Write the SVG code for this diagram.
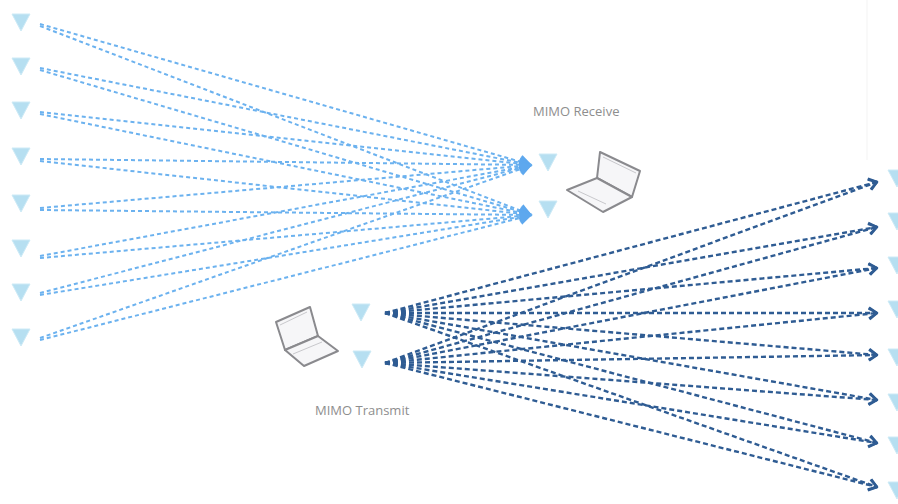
<svg xmlns="http://www.w3.org/2000/svg" width="898" height="504" viewBox="0 0 898 504">
  <style>
    .ant { fill: #b6dff1; stroke: #cdeaf6; stroke-width: 1; }
    .laptop { fill: #f6f6f8; stroke: #8a8a8e; stroke-width: 2; stroke-linejoin: round; }
    .laptop-inner { fill: none; stroke: #c8c8cc; stroke-width: 1; }
    .rx { stroke: #6cb2ef; stroke-width: 2; stroke-dasharray: 4 3; fill: none; marker-end: url(#arrowFilled); }
    .tx { stroke: #2f5c93; stroke-width: 2.4; stroke-dasharray: 5 3; fill: none; marker-end: url(#arrowOpen); }
    .label { font-family: "Open Sans", "Liberation Sans", sans-serif; font-size: 13px; fill: #8e8e8e; }
  </style>
  <defs>
    <marker id="arrowFilled" markerUnits="userSpaceOnUse" markerWidth="16" markerHeight="16" refX="14" refY="8" orient="auto">
      <path d="M2,1 L14,8 L2,15 Z" fill="#5ea8ee"/>
    </marker>
    <marker id="arrowOpen" markerUnits="userSpaceOnUse" markerWidth="14" markerHeight="14" refX="12" refY="7" orient="auto">
      <path d="M4,1.5 L12,7 L4,12.5" fill="none" stroke="#2f5c93" stroke-width="2.4" stroke-linejoin="round"/>
    </marker>
    <path id="antenna" d="M-9,-8 L9,-8 L0,9 Z"/>
  </defs>

  <rect width="898" height="504" fill="#ffffff"/>
  <line x1="867" y1="0" x2="867" y2="160" stroke="#f3f3f3" stroke-width="1"/>

  <!-- connectors -->
  <g id="connectors">
    <g id="receive-links">
      <line class="rx" x1="40" y1="24" x2="532" y2="165"/>
      <line class="rx" x1="40" y1="26" x2="532" y2="215"/>
      <line class="rx" x1="40" y1="68" x2="532" y2="165"/>
      <line class="rx" x1="40" y1="70" x2="532" y2="215"/>
      <line class="rx" x1="40" y1="112" x2="532" y2="165"/>
      <line class="rx" x1="40" y1="114" x2="532" y2="215"/>
      <line class="rx" x1="40" y1="159" x2="532" y2="165"/>
      <line class="rx" x1="40" y1="161" x2="532" y2="215"/>
      <line class="rx" x1="40" y1="208" x2="532" y2="165"/>
      <line class="rx" x1="40" y1="210" x2="532" y2="215"/>
      <line class="rx" x1="40" y1="256" x2="532" y2="165"/>
      <line class="rx" x1="40" y1="258" x2="532" y2="215"/>
      <line class="rx" x1="40" y1="293" x2="532" y2="165"/>
      <line class="rx" x1="40" y1="295" x2="532" y2="215"/>
      <line class="rx" x1="40" y1="338" x2="532" y2="165"/>
      <line class="rx" x1="40" y1="340" x2="532" y2="215"/>
    </g>
    <g id="transmit-links">
      <line class="tx" x1="385" y1="313" x2="877" y2="182"/>
      <line class="tx" x1="385" y1="313" x2="877" y2="227"/>
      <line class="tx" x1="385" y1="313" x2="877" y2="268"/>
      <line class="tx" x1="385" y1="313" x2="877" y2="313"/>
      <line class="tx" x1="385" y1="313" x2="877" y2="355"/>
      <line class="tx" x1="385" y1="313" x2="877" y2="400"/>
      <line class="tx" x1="385" y1="313" x2="877" y2="443"/>
      <line class="tx" x1="385" y1="313" x2="877" y2="487"/>
      <line class="tx" x1="385" y1="363" x2="877" y2="182"/>
      <line class="tx" x1="385" y1="363" x2="877" y2="227"/>
      <line class="tx" x1="385" y1="363" x2="877" y2="268"/>
      <line class="tx" x1="385" y1="363" x2="877" y2="313"/>
      <line class="tx" x1="385" y1="363" x2="877" y2="355"/>
      <line class="tx" x1="385" y1="363" x2="877" y2="400"/>
      <line class="tx" x1="385" y1="363" x2="877" y2="443"/>
      <line class="tx" x1="385" y1="363" x2="877" y2="487"/>
    </g>
  </g>

  <!-- remote antennas, left -->
  <g id="left-antenna-1"><use href="#antenna" class="ant" x="21" y="22"/></g>
  <g id="left-antenna-2"><use href="#antenna" class="ant" x="21" y="66"/></g>
  <g id="left-antenna-3"><use href="#antenna" class="ant" x="21" y="110"/></g>
  <g id="left-antenna-4"><use href="#antenna" class="ant" x="21" y="156"/></g>
  <g id="left-antenna-5"><use href="#antenna" class="ant" x="21" y="203"/></g>
  <g id="left-antenna-6"><use href="#antenna" class="ant" x="21" y="248"/></g>
  <g id="left-antenna-7"><use href="#antenna" class="ant" x="21" y="292"/></g>
  <g id="left-antenna-8"><use href="#antenna" class="ant" x="21" y="337"/></g>

  <!-- remote antennas, right -->
  <g id="right-antenna-1"><use href="#antenna" class="ant" x="897" y="178"/></g>
  <g id="right-antenna-2"><use href="#antenna" class="ant" x="897" y="221"/></g>
  <g id="right-antenna-3"><use href="#antenna" class="ant" x="897" y="265"/></g>
  <g id="right-antenna-4"><use href="#antenna" class="ant" x="897" y="309"/></g>
  <g id="right-antenna-5"><use href="#antenna" class="ant" x="897" y="357"/></g>
  <g id="right-antenna-6"><use href="#antenna" class="ant" x="897" y="402"/></g>
  <g id="right-antenna-7"><use href="#antenna" class="ant" x="897" y="445"/></g>
  <g id="right-antenna-8"><use href="#antenna" class="ant" x="897" y="490"/></g>

  <!-- MIMO receiver -->
  <g id="mimo-receive">
    <use href="#antenna" class="ant" x="548" y="162"/>
    <use href="#antenna" class="ant" x="548" y="209"/>
    <path class="laptop" d="M597,178 L600,152 L640,171 L632,197 Z"/>
    <path class="laptop" d="M567,190 L597,178 L632,197 L603,212 Z"/>
    <path class="laptop-inner" d="M603,157 L636,173 M578,191 L606,204"/>
    <text class="label" x="533" y="116">MIMO Receive</text>
  </g>

  <!-- MIMO transmitter -->
  <g id="mimo-transmit">
    <use href="#antenna" class="ant" x="361" y="312"/>
    <use href="#antenna" class="ant" x="362" y="359"/>
    <path class="laptop" d="M276,322 L310,307 L318,336 L285,350 Z"/>
    <path class="laptop" d="M285,350 L318,336 L338,351 L304,366 Z"/>
    <path class="laptop-inner" d="M280,325 L307,312 M293,354 L322,342"/>
    <text class="label" x="315" y="415">MIMO Transmit</text>
  </g>
</svg>
